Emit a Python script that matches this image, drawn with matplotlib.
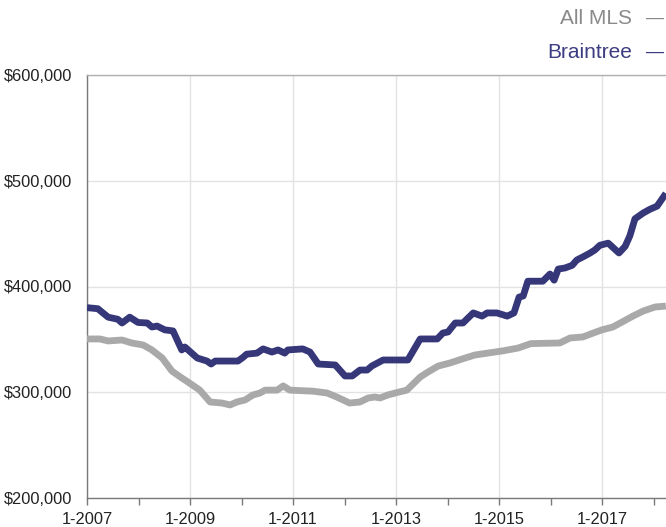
import matplotlib
matplotlib.use("Agg")
import matplotlib.pyplot as plt
from matplotlib.ticker import FuncFormatter, MultipleLocator

plt.rcParams['font.family'] = ['Liberation Sans', 'DejaVu Sans']

# ---- data (decimal year, value in $1000) ----
braintree_t = [2007.0, 2007.21, 2007.41, 2007.6, 2007.68, 2007.83, 2007.99, 2008.17, 2008.26,
               2008.36, 2008.51, 2008.67, 2008.84, 2008.9, 2009.14, 2009.33, 2009.41, 2009.49,
               2009.93, 2010.03, 2010.1, 2010.3, 2010.42, 2010.59, 2010.71, 2010.84, 2010.9,
               2011.19, 2011.33, 2011.49, 2011.82, 2012.01, 2012.15, 2012.3, 2012.44, 2012.53,
               2012.75, 2013.04, 2013.23, 2013.47, 2013.8, 2013.91, 2014.01, 2014.15, 2014.3,
               2014.5, 2014.67, 2014.77, 2014.96, 2015.16, 2015.29, 2015.39, 2015.47, 2015.56,
               2015.85, 2015.99, 2016.07, 2016.15, 2016.28, 2016.42, 2016.51, 2016.63, 2016.77,
               2016.86, 2016.96, 2017.12, 2017.33, 2017.45, 2017.54, 2017.64, 2017.8, 2017.93,
               2018.07, 2018.24]
braintree_v = [380, 379, 371, 369, 365.5, 371, 366, 365.5, 361.7,
               362.6, 359, 358, 340, 342.8, 332.4, 329.5, 326.7, 329.5,
               329.5, 333, 336, 337, 341, 338, 340, 337, 340,
               341, 338, 326.7, 325.8, 315.4, 315.4, 321, 321, 324.8,
               330.5, 330.5, 330.5, 350.4, 350.4, 356, 357, 365.5, 365.5,
               375, 372, 375, 375, 372, 375, 390, 391, 405,
               405, 411.8, 406, 416.5, 417.5, 420, 425, 428, 431.7,
               434.5, 439, 441, 431.7, 438, 447.8, 464, 469.5, 473,
               476, 488]

allmls_t = [2007.0, 2007.25, 2007.41, 2007.68, 2007.87, 2008.09, 2008.26, 2008.46, 2008.65,
            2008.84, 2008.96, 2009.19, 2009.39, 2009.62, 2009.78, 2009.91, 2010.07, 2010.22,
            2010.36, 2010.46, 2010.69, 2010.81, 2010.94, 2011.39, 2011.66, 2011.85, 2012.1,
            2012.3, 2012.46, 2012.59, 2012.69, 2012.84, 2013.04, 2013.21, 2013.47, 2013.62,
            2013.82, 2014.05, 2014.28, 2014.53, 2014.79, 2015.06, 2015.37, 2015.62, 2016.18,
            2016.38, 2016.63, 2016.83, 2017.0, 2017.21, 2017.39, 2017.6, 2017.8, 2018.03, 2018.24]
allmls_v = [350.4, 350.4, 348.5, 349.4, 346.6, 344.7, 340, 332.4, 320,
            313.5, 309.7, 302, 290.8, 289.8, 288, 290.8, 292.7, 297.4,
            299.3, 302, 302, 306, 302, 301, 299.3, 295.5, 289.8,
            290.8, 294.6, 295.5, 294.6, 297.4, 300, 302, 314.4, 319.1,
            324.8, 327.7, 331.4, 335.2, 337.1, 339, 341.8, 346, 346.6,
            351.3, 352.3, 356, 359, 361.7, 366.4, 372, 376.8, 380.6, 381.5]

series_names = ['All MLS', 'Braintree']
series_colors = ['#a9a9a9', '#363779']
label_colors = ['#8a8a8a', '#3c3c82']

x_ticks = [2007, 2009, 2011, 2013, 2015, 2017]
x_labels = ['1-2007', '1-2009', '1-2011', '1-2013', '1-2015', '1-2017']
y_ticks = [200000, 300000, 400000, 500000, 600000]

# ---- figure ----
fig = plt.figure(figsize=(6.66, 5.27), dpi=100)
ax = fig.add_axes([87 / 666, 1 - 498 / 527, 1 - 87 / 666, (498 - 75) / 527])

ax.plot(allmls_t, [v * 1000 for v in allmls_v], color=series_colors[0], lw=4.9,
        solid_joinstyle='round', solid_capstyle='butt', zorder=3)
ax.plot(braintree_t, [v * 1000 for v in braintree_v], color=series_colors[1], lw=4.9,
        solid_joinstyle='round', solid_capstyle='butt', zorder=4)

ax.set_xlim(2007, 2007 + (666 - 87) / 51.5)
ax.set_ylim(200000, 600000)

ax.set_xticks(x_ticks)
ax.set_xticklabels(x_labels)
ax.xaxis.set_minor_locator(MultipleLocator(1))
ax.set_yticks(y_ticks)
ax.yaxis.set_major_formatter(FuncFormatter(lambda v, p: '${:,.0f}'.format(v)))

ax.grid(True, axis='both', which='major', color='#e2e2e2', lw=1)
ax.set_axisbelow(True)

for s in ['left', 'bottom']:
    ax.spines[s].set_color('#7a7a7a')
    ax.spines[s].set_linewidth(1)
ax.spines['top'].set_color('#b0b0b0')
ax.spines['top'].set_linewidth(1)
ax.spines['right'].set_visible(False)

ax.tick_params(axis='x', which='both', direction='out', length=5, width=1,
               color='#7a7a7a', labelsize=11.8, pad=5, labelcolor='#222222')
ax.tick_params(axis='y', which='both', length=0, labelsize=11.8, pad=10.8, labelcolor='#222222')

# legend in the top right corner
fig.text(632 / 666, 1 - 18 / 527, series_names[0], ha='right', va='center',
         fontsize=15, color=label_colors[0])
fig.text(632 / 666, 1 - 52 / 527, series_names[1], ha='right', va='center',
         fontsize=15, color=label_colors[1])
fig.text(646 / 666, 1 - 18 / 527, '—', ha='left', va='center', fontsize=13, color=label_colors[0])
fig.text(646 / 666, 1 - 52 / 527, '—', ha='left', va='center', fontsize=13, color=label_colors[1])

fig.savefig('out.png', dpi=100)
